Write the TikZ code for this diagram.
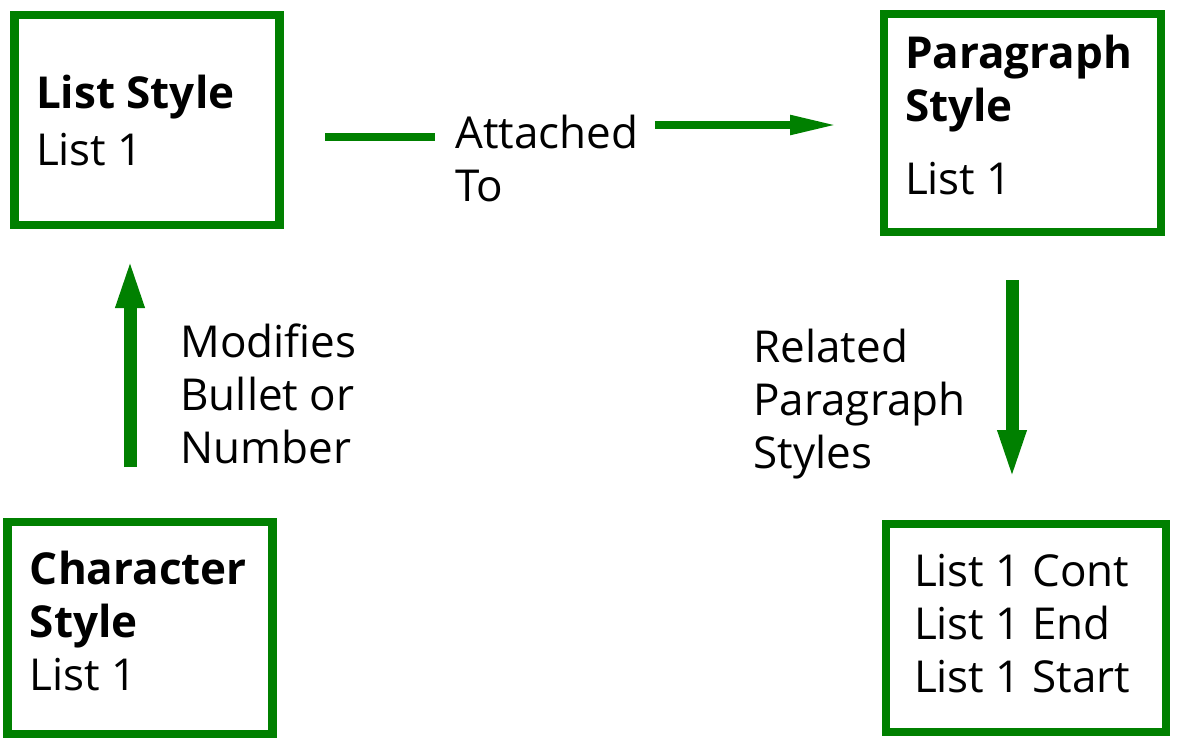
\documentclass[tikz,border=0pt]{standalone}
\usepackage{fontspec}
\setmainfont{Open Sans}
\usepackage{tikz}
\usetikzlibrary{arrows.meta, positioning}
\definecolor{boxgreen}{RGB}{0,128,0}
\tikzset{
  stylebox/.style={draw=boxgreen, line width=4.25pt, align=flush left, inner sep=0pt, outer sep=0pt, font=\fontsize{22}{26.5}\selectfont},
  note/.style={align=left, inner sep=0pt, anchor=west, font=\fontsize{22}{26.5}\selectfont},
  flow/.style={draw=boxgreen, line width=6.5pt, -{Triangle[length=26pt,width=12.5pt]}},
  link/.style={draw=boxgreen, line width=4pt},
}

\begin{document}
\begin{tikzpicture}[x=0.5pt, y=-0.5pt]
            \useasboundingbox (0,0) rectangle (1185,746);
            \node[stylebox, minimum width=132.5pt, minimum height=105pt, text width=111pt] (liststyle) at (147,120) {\textbf{List Style}\\[2pt] List 1}; %List Style
            \node[stylebox, minimum width=138.5pt, minimum height=109pt, text width=117.5pt, text depth=71pt] (parastyle) at (1022.5,123) {\textbf{Paragraph}\\ \textbf{Style}\\[10pt] List 1}; %Paragraph Style
            \node[stylebox, minimum width=132.5pt, minimum height=106pt, text width=110pt, text depth=60pt] (charstyle) at (140,628) {\textbf{Character}\\ \textbf{Style}\\ List 1}; %Character Style
            \node[stylebox, minimum width=140pt, minimum height=104pt, text width=112pt, text depth=58pt] (relstyles) at (1026,628) {List 1 Cont\\ List 1 End\\ List 1 Start}; %related styles
            \node[note] (attach) at (455,158) {Attached\\ To};
            \node[note] (modifies) at (180,394) {Modifies\\ Bullet or\\ Number};
            \node[note] (relnote) at (753,404) {Related\\ Paragraph\\ Styles};
            \draw[link, shorten <=22.75pt, shorten >=10pt] ([yshift=-8.5pt]liststyle.east) -- ([yshift=-8.5pt]liststyle.east -| attach.west);
            \draw[link, -{Triangle[length=24pt,width=9pt]}, shorten <=8pt, shorten >=23pt] ([yshift=-1pt]attach.east |- parastyle.west) -- ([yshift=-1pt]parastyle.west); %attached to
            \draw[flow, shorten <=27.5pt, shorten >=15.5pt] ([xshift=-5pt]charstyle.north) -- ([xshift=-5pt]charstyle.north |- liststyle.south); %modifies
            \draw[flow, shorten <=24pt, shorten >=21pt] ([xshift=-5.25pt]parastyle.south) -- ([xshift=-5.25pt]parastyle.south |- relstyles.north); %related
        \end{tikzpicture}
\end{document}
